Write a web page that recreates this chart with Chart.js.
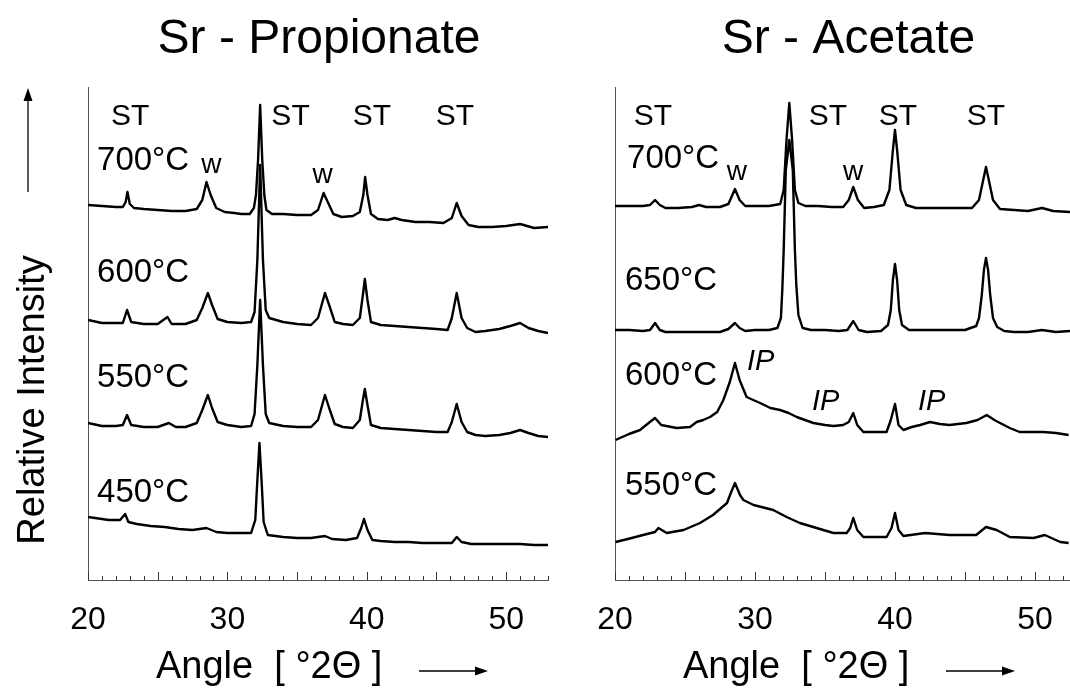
<!DOCTYPE html>
<html><head><meta charset="utf-8">
<script src="https://cdn.jsdelivr.net/npm/chart.js@4.4.1/dist/chart.umd.min.js"></script>
<style>
html,body{margin:0;padding:0;background:#fff;}
#wrap{position:relative;width:1070px;height:689px;overflow:hidden;background:#fff;}
canvas{position:absolute;top:0;}
#c1{left:0;}
#c2{left:560px;}
</style></head><body>
<div id="wrap"><canvas id="c1" width="560" height="689"></canvas><canvas id="c2" width="510" height="689"></canvas></div>
<script>
// ---------- Sr - Propionate (angle in °2Θ, relative intensity in arbitrary units incl. stacking offset) ----------
const prop700Angle = [20,21,22,22.5,22.7,22.83,23.0,23.3,24,25,26,27,27.8,28.2,28.5,28.8,29.2,29.8,30.5,31,31.6,31.9,32.05,32.2,32.35,32.5,32.65,32.8,33.2,34,35,36,36.5,36.9,37.2,37.6,38.2,39,39.5,39.75,39.88,40.05,40.3,40.8,41.5,42,42.5,43.5,44.5,45.5,46.1,46.45,46.8,47.3,48,49,50,51,52,53];
const prop700Int   = [375,374,373,373,378,388,376,372,371,370,369,369,371,380,398,385,372,368,367,366,366,372,385,420,475,420,385,370,366,366,365,365,370,387,378,366,363,364,368,385,403,385,366,361,360,362,360,358,358,357,362,377,364,355,353,353,354,356,352,353];

const prop600Angle = [20,21,22,22.5,22.8,23.1,24,25,25.7,26,27,27.8,28.2,28.6,28.9,29.3,30,31,31.7,31.95,32.15,32.35,32.55,32.75,33,34,35,36,36.5,37.0,37.3,37.7,38.3,39,39.5,39.72,39.86,40.05,40.3,41,42,43,44,45,45.8,46.1,46.45,46.8,47.2,47.8,48.5,49.5,50.3,51.0,51.6,52.3,53];
const prop600Int   = [260,257,257,257,270,258,256,256,263,256,256,260,272,287,275,261,258,257,258,268,320,415,320,270,262,258,256,255,262,287,275,258,256,255,262,285,301,280,258,255,254,253,252,251,250,262,287,262,252,248,249,251,254,257,252,249,247];

const prop550Angle = [20,21,22,22.5,22.8,23.1,24,25,25.8,26.3,27,27.8,28.2,28.6,28.9,29.3,30,31,31.7,31.95,32.15,32.35,32.55,32.75,33,34,35,36,36.5,37.0,37.3,37.7,38.3,39,39.5,39.72,39.86,40.05,40.3,41,42,43,44,45,45.8,46.1,46.45,46.8,47.2,47.8,48.5,49.5,50.3,51.0,51.6,52.3,53];
const prop550Int   = [157,154,154,155,165,155,153,153,157,153,153,157,170,185,172,158,155,153,154,166,215,280,215,166,157,154,153,153,160,185,172,156,153,152,160,180,191,175,155,152,151,150,149,148,148,158,176,158,148,145,144,145,147,150,147,144,143];

const prop450Angle = [20,20.5,21.5,22.3,22.66,22.9,23.5,24.5,25.5,26.5,27.5,28.5,29.2,30,31,31.7,32.0,32.15,32.3,32.45,32.6,32.9,34,35,36,37,37.5,38.5,39.3,39.6,39.8,40.05,40.4,41,42,43,44,45,46.1,46.45,46.8,47.5,48.5,50,51,52,53];
const prop450Int   = [63,62,60,60,66,58,56,54,53,51,50,52,48,47,47,47,60,100,137,100,58,45,43,42,42,44,41,40,42,52,61,50,40,39,38,38,37,37,37,43,38,36,36,36,36,35,35];

// ---------- Sr - Acetate ----------
const acet700Angle = [20,21,22,22.5,22.86,23.2,23.6,24.5,25.5,26.0,26.5,27.5,28.1,28.57,28.9,29.3,30,31,31.8,32.05,32.25,32.45,32.65,32.85,33.1,33.6,34.5,35.5,36.3,36.7,37.02,37.35,37.8,38.5,39.2,39.6,39.85,40.0,40.15,40.4,40.8,41.5,42.5,43.5,44.5,45.5,46.0,46.3,46.5,46.7,47.0,47.5,48.5,49.5,50.5,51.3,52.5];
const acet700Int   = [374,374,374,375,380,375,372,372,373,375,373,373,376,391,380,374,374,374,376,390,440,477,440,390,377,374,374,373,373,380,393,380,372,373,375,390,430,450,430,390,375,372,372,372,372,372,380,400,413,400,380,371,370,369,372,369,368];

const acet650Angle = [20,21,22,22.5,22.86,23.2,23.6,24.5,25.5,26.5,27.5,28.1,28.57,28.9,29.3,30,31,31.6,31.85,31.95,32.05,32.2,32.45,32.7,32.85,32.95,33.1,33.4,34,35,36,36.6,37.02,37.4,38,39,39.5,39.7,39.85,40.0,40.15,40.3,40.5,41,42,43,44,45,45.8,46.0,46.2,46.35,46.5,46.65,46.8,47.0,47.3,47.8,48.5,49.5,50.5,51.5,52.5];
const acet650Int   = [250,250,249,250,257,250,248,248,248,248,248,251,257,252,249,250,250,252,262,290,330,410,440,410,330,295,265,252,250,250,249,250,259,250,248,249,255,270,300,316,300,270,255,250,250,250,250,250,254,262,285,310,322,310,285,262,253,249,248,248,250,248,249];

const acet600Angle = [20.04,21.0,21.79,22.4,22.86,23.3,24.4,25.36,25.83,26.3,26.79,27.3,27.74,28.2,28.57,28.9,29.4,30.36,31.1,31.79,32.4,32.98,34.17,35.0,35.6,36.3,36.7,37.02,37.3,37.74,38.5,39.4,39.7,40.0,40.25,40.6,41.2,41.8,42.5,43.2,43.9,45.1,45.9,46.55,47.1,47.5,48.2,48.9,50.6,51.5,52.4];
const acet600Int   = [140,146,150,157,162,155,152,153,158,160,163,168,180,198,217,200,183,177,172,170,167,163,157,155,154,155,158,167,155,148,148,148,160,176,155,150,153,155,158,156,155,157,160,165,160,157,152,148,148,147,145];

const acet550Angle = [20.04,21.2,22.0,22.86,23.1,23.7,24.9,26.07,27.0,28.0,28.3,28.57,28.93,29.17,29.9,31.3,32.26,33.2,34.4,35.6,36.55,36.8,37.02,37.3,37.74,39.4,39.75,40.0,40.25,40.6,42.14,43.9,45.8,46.5,47.26,48.2,49.9,50.7,51.8,52.4];
const acet550Int   = [38,42,45,48,52,47,50,57,65,77,88,97,85,80,75,70,63,57,52,47,47,52,62,50,43,43,52,67,50,44,47,45,45,53,50,43,42,45,38,37];

// tick labels shown on the angle axis
const angleTickLabels = [20, 30, 40, 50];

// ---------- helpers ----------
const FONT = "'Liberation Sans', Arial, Helvetica, sans-serif";
const pairs = (a, b) => a.map((v, i) => ({x: v, y: b[i]}));
const ds = (a, b) => ({data: pairs(a, b), borderColor: '#000', borderWidth: 2.4, pointRadius: 0, tension: 0, fill: false, borderJoinStyle: 'round'});

function arrow(ctx, x1, y1, x2, y2) {
  const ang = Math.atan2(y2 - y1, x2 - x1), L = 13, W = 4.5;
  ctx.save();
  ctx.strokeStyle = '#000'; ctx.fillStyle = '#000'; ctx.lineWidth = 1.3;
  ctx.beginPath(); ctx.moveTo(x1, y1); ctx.lineTo(x2 - L * Math.cos(ang), y2 - L * Math.sin(ang)); ctx.stroke();
  ctx.translate(x2, y2); ctx.rotate(ang);
  ctx.beginPath(); ctx.moveTo(0, 0); ctx.lineTo(-L, -W); ctx.lineTo(-L, W); ctx.closePath(); ctx.fill();
  ctx.restore();
}

function decor(cfg) {
  return {
    id: 'decor',
    afterDraw(chart) {
      const ctx = chart.ctx, xs = chart.scales.x, ys = chart.scales.y, ca = chart.chartArea;
      ctx.save();
      // inward tick marks on the angle axis
      ctx.strokeStyle = '#333'; ctx.lineWidth = 1;
      for (let a = Math.ceil(xs.min); a <= xs.max + 1e-9; a++) {
        const px = Math.round(xs.getPixelForValue(a)) + 0.5;
        const len = (a % 5 === 0) ? 8 : 4;
        ctx.beginPath(); ctx.moveTo(px, ca.bottom); ctx.lineTo(px, ca.bottom - len); ctx.stroke();
      }
      ctx.fillStyle = '#000';
      ctx.textBaseline = 'alphabetic';
      // panel title
      ctx.font = `48px ${FONT}`; ctx.textAlign = 'center';
      ctx.fillText(cfg.title, cfg.titleX, 53);
      // annotations
      cfg.labels.forEach(l => {
        ctx.font = `${l.italic ? 'italic ' : ''}${l.size}px ${FONT}`;
        ctx.textAlign = l.align;
        ctx.fillText(l.text, xs.getPixelForValue(l.angle), ys.getPixelForValue(l.level));
      });
      // x-axis title with arrow
      ctx.font = `38px ${FONT}`; ctx.textAlign = 'left';
      ctx.fillText('Angle  [ °2Θ ]', ca.left + 68, 678);
      arrow(ctx, ca.left + 331, 671, ca.left + 400, 671);
      // y-axis title with arrow
      if (cfg.yTitle) {
        arrow(ctx, 28, 192, 28, 88);
        ctx.save();
        ctx.translate(44, 400); ctx.rotate(-Math.PI / 2);
        ctx.font = `38px ${FONT}`; ctx.textAlign = 'center';
        ctx.fillText(cfg.yTitle, 0, 0);
        ctx.restore();
      }
      ctx.restore();
    }
  };
}

function makeChart(id, datasets, xMax, yWidth, padRight, cfg) {
  return new Chart(document.getElementById(id), {
    type: 'line',
    data: {datasets},
    options: {
      responsive: false, animation: false, devicePixelRatio: 1,
      layout: {padding: {top: 87, right: padRight, left: 0, bottom: 0}},
      plugins: {legend: {display: false}, tooltip: {enabled: false}, title: {display: false}},
      scales: {
        x: {
          type: 'linear', min: 20, max: xMax,
          grid: {display: false},
          border: {display: true, color: '#555', width: 1},
          ticks: {
            stepSize: 10, includeBounds: false, padding: 13, color: '#000', maxRotation: 0,
            font: {family: FONT, size: 32},
            callback: v => angleTickLabels.includes(v) ? String(v) : ''
          },
          afterFit: s => { s.height = 109; }
        },
        y: {
          type: 'linear', min: 0, max: 493,
          grid: {display: false},
          border: {display: true, color: '#555', width: 1},
          ticks: {display: false},
          afterFit: s => { s.width = yWidth; }
        }
      }
    },
    plugins: [decor(cfg)]
  });
}

const propLabels = [
  {text: 'ST', angle: 23.02, level: 455, size: 30, align: 'center'},
  {text: 'ST', angle: 34.53, level: 455, size: 30, align: 'center'},
  {text: 'ST', angle: 40.36, level: 455, size: 30, align: 'center'},
  {text: 'ST', angle: 46.33, level: 455, size: 30, align: 'center'},
  {text: '700°C', angle: 20.65, level: 410, size: 33, align: 'left'},
  {text: 'w', angle: 28.85, level: 407, size: 28, align: 'center'},
  {text: 'w', angle: 36.83, level: 397, size: 28, align: 'center'},
  {text: '600°C', angle: 20.65, level: 298, size: 33, align: 'left'},
  {text: '550°C', angle: 20.65, level: 193, size: 33, align: 'left'},
  {text: '450°C', angle: 20.65, level: 78, size: 33, align: 'left'}
];
const acetLabels = [
  {text: 'ST', angle: 22.71, level: 455, size: 30, align: 'center'},
  {text: 'ST', angle: 35.21, level: 455, size: 30, align: 'center'},
  {text: 'ST', angle: 40.21, level: 455, size: 30, align: 'center'},
  {text: 'ST', angle: 46.5, level: 455, size: 30, align: 'center'},
  {text: '700°C', angle: 20.86, level: 412, size: 33, align: 'left'},
  {text: 'w', angle: 28.71, level: 400, size: 28, align: 'center'},
  {text: 'w', angle: 37.0, level: 400, size: 28, align: 'center'},
  {text: '650°C', angle: 20.71, level: 290, size: 33, align: 'left'},
  {text: '600°C', angle: 20.71, level: 195, size: 33, align: 'left'},
  {text: 'IP', angle: 29.43, level: 210, size: 29, align: 'left', italic: true},
  {text: 'IP', angle: 34.07, level: 170, size: 29, align: 'left', italic: true},
  {text: 'IP', angle: 41.64, level: 170, size: 29, align: 'left', italic: true},
  {text: '550°C', angle: 20.71, level: 85, size: 33, align: 'left'}
];

makeChart('c1', [
  ds(prop700Angle, prop700Int), ds(prop600Angle, prop600Int),
  ds(prop550Angle, prop550Int), ds(prop450Angle, prop450Int)
], 53, 88, 12, {title: 'Sr - Propionate', titleX: 319, labels: propLabels, yTitle: 'Relative Intensity'});

makeChart('c2', [
  ds(acet700Angle, acet700Int), ds(acet650Angle, acet650Int),
  ds(acet600Angle, acet600Int), ds(acet550Angle, acet550Int)
], 52.5, 55, 0, {title: 'Sr - Acetate', titleX: 288.5, labels: acetLabels, yTitle: null});
</script></body></html>
